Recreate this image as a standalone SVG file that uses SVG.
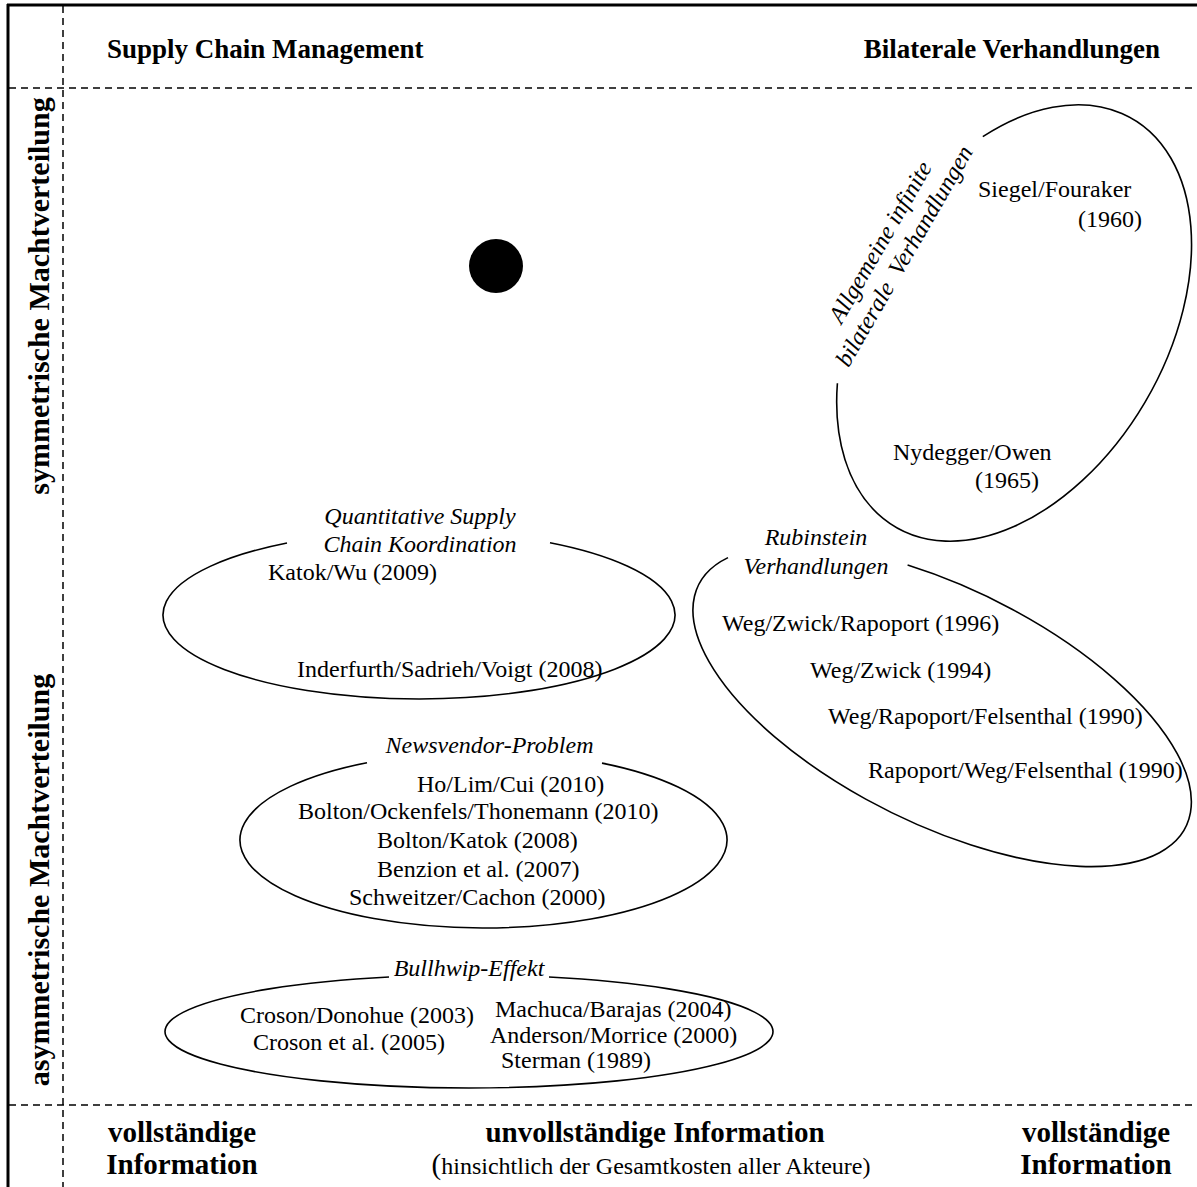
<svg xmlns="http://www.w3.org/2000/svg" width="1197" height="1187" viewBox="0 0 1197 1187">
<style>
.t{font-family:'Liberation Serif','Times New Roman',serif;font-size:24px;fill:#000}
.i{font-style:italic}
.h{font-weight:bold;font-size:27px}
.b{font-weight:bold;font-size:29px}
.v{font-weight:bold;font-size:30px}
.e{fill:none;stroke:#000;stroke-width:1.6}
.d{fill:none;stroke:#000;stroke-width:1.5;stroke-dasharray:7 5}
.f{fill:none;stroke:#000;stroke-width:3}
</style>
<rect width="1197" height="1187" fill="#fff"/>
<g id="frame">
<line class="f" x1="7" y1="5" x2="1197" y2="5"/>
<line class="f" x1="8" y1="4" x2="8" y2="1187"/>
<line class="d" x1="63" y1="6" x2="63" y2="1187"/>
<line class="d" x1="9" y1="88" x2="1197" y2="88"/>
<line class="d" x1="9" y1="1105" x2="1197" y2="1105"/>
</g>
<g id="headers">
<text class="t h" x="107" y="58">Supply Chain Management</text>
<text class="t h" x="1160" y="58" text-anchor="end">Bilaterale Verhandlungen</text>
<text class="t v" transform="translate(49,296) rotate(-90)" text-anchor="middle">symmetrische Machtverteilung</text>
<text class="t v" transform="translate(49,880) rotate(-90)" text-anchor="middle">asymmetrische Machtverteilung</text>
<text class="t b" x="182" y="1142" text-anchor="middle">vollständige</text>
<text class="t b" x="182" y="1174" text-anchor="middle">Information</text>
<text class="t b" x="655" y="1142" text-anchor="middle">unvollständige Information</text>
<text class="t" x="651" y="1174" text-anchor="middle"><tspan font-size="29">(</tspan>hinsichtlich der Gesamtkosten aller Akteure)</text>
<text class="t b" x="1096" y="1142" text-anchor="middle">vollständige</text>
<text class="t b" x="1096" y="1174" text-anchor="middle">Information</text>
</g>
<g id="dot">
<circle cx="496" cy="266" r="27" fill="#000"/>
</g>
<g id="node-allgemeine">
<path class="e" d="M 982.8 136.6 A 236 153 -60 1 1 837.4 383.2"/>
<text class="t i" transform="translate(887,246) rotate(-60)" text-anchor="middle">Allgemeine infinite</text>
<text class="t i" transform="translate(911,260) rotate(-60)" text-anchor="middle" xml:space="preserve">bilaterale  Verhandlungen</text>
<text class="t" x="978" y="197">Siegel/Fouraker</text>
<text class="t" x="1142" y="227" text-anchor="end">(1960)</text>
<text class="t" x="893" y="460">Nydegger/Owen</text>
<text class="t" x="1039" y="488" text-anchor="end">(1965)</text>
</g>
<g id="node-quantitative">
<path class="e" d="M 550 542.8 A 256 84 0 1 1 287 543"/>
<text class="t i" x="420" y="524" text-anchor="middle">Quantitative Supply</text>
<text class="t i" x="420" y="552" text-anchor="middle">Chain Koordination</text>
<text class="t" x="268" y="580">Katok/Wu (2009)</text>
<text class="t" x="297" y="677">Inderfurth/Sadrieh/Voigt (2008)</text>
</g>
<g id="node-rubinstein">
<path class="e" d="M 907.6 565.1 A 272 118 26.4 1 1 728 557.6"/>
<text class="t i" x="816" y="545" text-anchor="middle">Rubinstein</text>
<text class="t i" x="816" y="574" text-anchor="middle">Verhandlungen</text>
<text class="t" x="722" y="631">Weg/Zwick/Rapoport (1996)</text>
<text class="t" x="810" y="678">Weg/Zwick (1994)</text>
<text class="t" x="828" y="724">Weg/Rapoport/Felsenthal (1990)</text>
<text class="t" x="868" y="778">Rapoport/Weg/Felsenthal (1990)</text>
</g>
<g id="node-newsvendor">
<path class="e" d="M 602 763.1 A 243.5 88 0 1 1 367 762.7"/>
<text class="t i" x="489.5" y="753" text-anchor="middle">Newsvendor-Problem</text>
<text class="t" x="417" y="792">Ho/Lim/Cui (2010)</text>
<text class="t" x="298" y="819">Bolton/Ockenfels/Thonemann (2010)</text>
<text class="t" x="377" y="848">Bolton/Katok (2008)</text>
<text class="t" x="377" y="877">Benzion et al. (2007)</text>
<text class="t" x="349" y="905">Schweitzer/Cachon (2000)</text>
</g>
<g id="node-bullwhip">
<path class="e" d="M 549 977 A 304 56.5 0 1 1 389 977"/>
<text class="t i" x="469" y="976" text-anchor="middle">Bullhwip-Effekt</text>
<text class="t" x="240" y="1023">Croson/Donohue (2003)</text>
<text class="t" x="253" y="1050">Croson et al. (2005)</text>
<text class="t" x="495" y="1017">Machuca/Barajas (2004)</text>
<text class="t" x="490" y="1043">Anderson/Morrice (2000)</text>
<text class="t" x="501" y="1068">Sterman (1989)</text>
</g>
<g id="connectors"></g>
</svg>
